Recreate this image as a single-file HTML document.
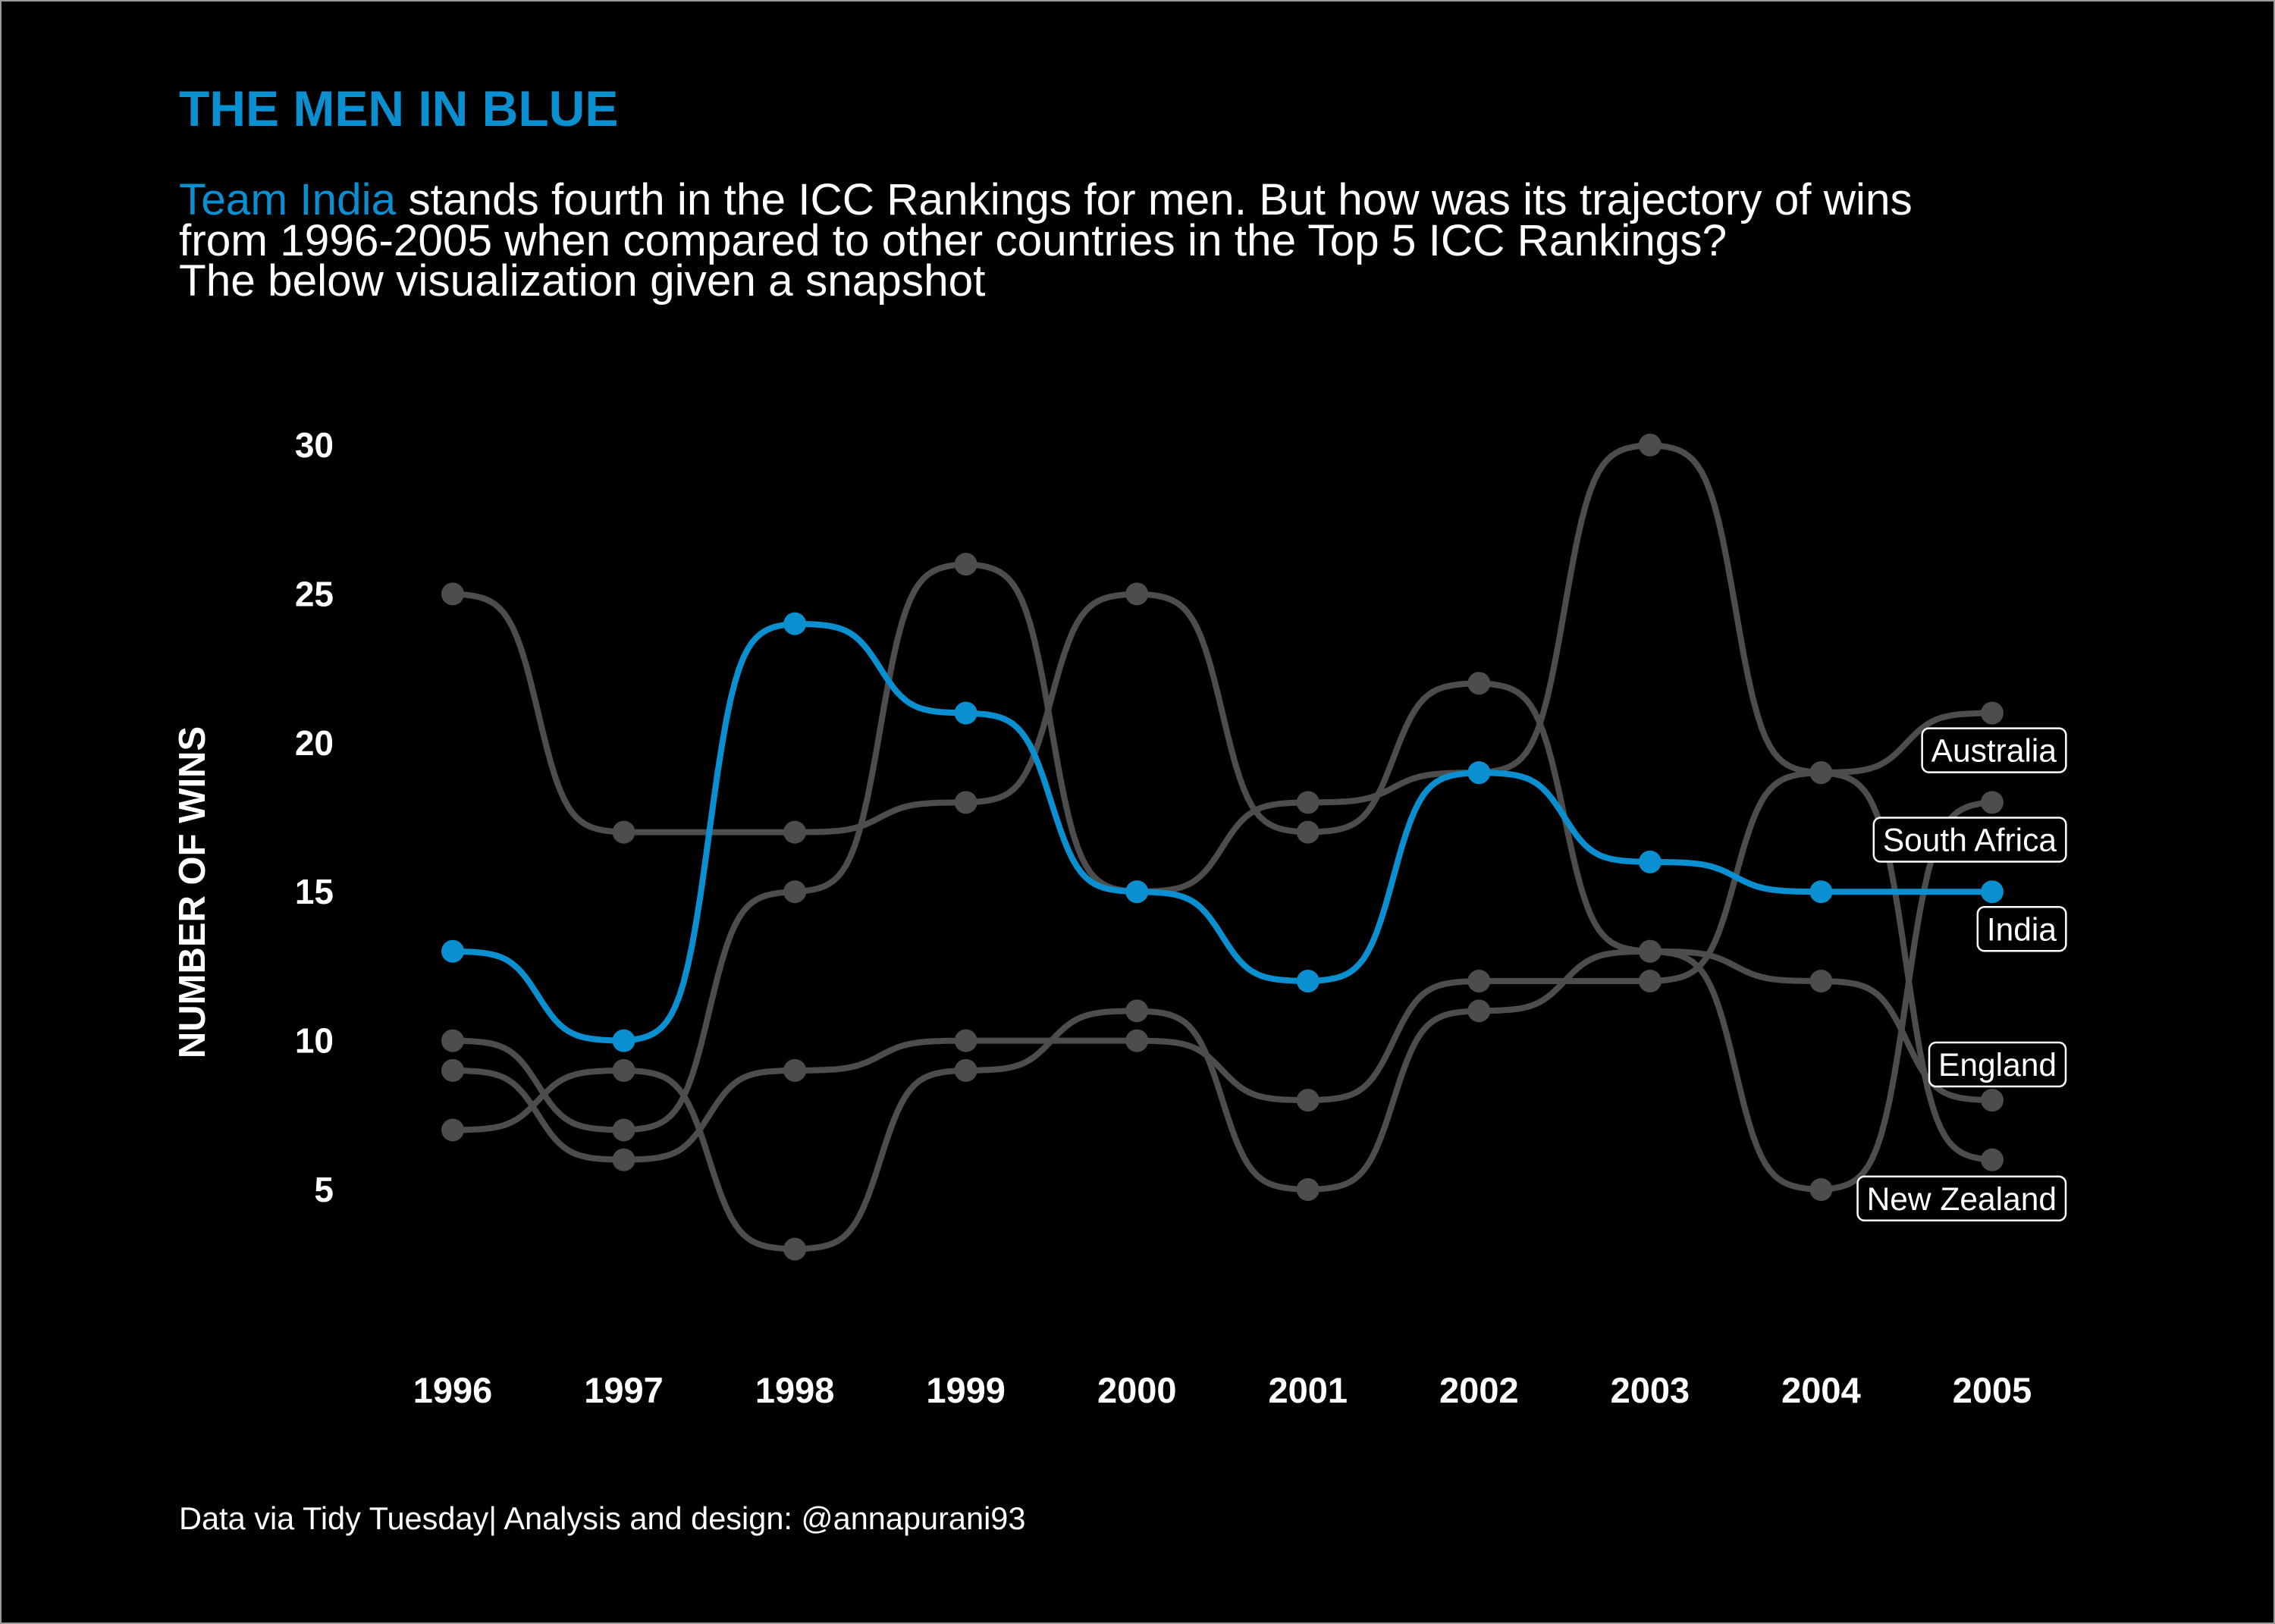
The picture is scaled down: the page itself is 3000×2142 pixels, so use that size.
<!DOCTYPE html>
<html><head><meta charset="utf-8">
<style>
html,body{margin:0;padding:0;background:#000;}
svg{display:block;}
text{font-family:"Liberation Sans",Arial,sans-serif;}
</style></head>
<body>
<svg id="chart" width="3000" height="2142" viewBox="0 0 3000 2142" xmlns="http://www.w3.org/2000/svg">
<rect x="0" y="0" width="3000" height="2142" fill="#000"/>
<rect x="1" y="1" width="2998" height="2140" fill="none" stroke="#9a9a9a" stroke-width="2"/>
<text x="236" y="166" fill="#0a8fd0" font-size="66" font-weight="bold">THE MEN IN BLUE</text>
<text x="236" y="283" fill="#fff" font-size="58.5"><tspan fill="#0a8fd0">Team India</tspan> stands fourth in the ICC Rankings for men. But how was its trajectory of wins</text>
<text x="236" y="337" fill="#fff" font-size="58.5">from 1996-2005 when compared to other countries in the Top 5 ICC Rankings?</text>
<text x="236" y="390" fill="#fff" font-size="58.5">The below visualization given a snapshot</text>
<text transform="translate(270,1177) rotate(-90)" text-anchor="middle" fill="#fff" font-size="49" font-weight="bold">NUMBER OF WINS</text>
<text x="236" y="2017" fill="#fff" font-size="41.5">Data via Tidy Tuesday| Analysis and design: @annapurani93</text>
<g id="yticks"></g><g id="xticks"></g><g id="lines"></g><g id="labels"></g>
</svg>
<script>
const years = [1996,1997,1998,1999,2000,2001,2002,2003,2004,2005];
const teams = ["Australia","South Africa","India","England","New Zealand"];
const australia = [10,7,15,26,15,18,19,30,19,21];
const southAfrica = [7,9,3,9,11,5,11,13,5,18];
const india = [13,10,24,21,15,12,19,16,15,15];
const england = [25,17,17,18,25,17,22,13,12,8];
const newZealand = [9,6,9,10,10,8,12,12,19,6];
const labelValues = [19.75,16.75,13.75,9.2,4.7];
const yTicks = [5,10,15,20,25,30];

const NS="http://www.w3.org/2000/svg";
const xs = y => 597 + (y-1996)*(2627-597)/9;
const ys = v => 1569 - (v-5)*(1569-587)/25;
function mk(tag, attrs, parent){const e=document.createElementNS(NS,tag);for(const k in attrs)e.setAttribute(k,attrs[k]);parent.appendChild(e);return e;}

const yt=document.getElementById('yticks');
yTicks.forEach(v=>{
  const t=mk('text',{x:440,y:ys(v)+16,'text-anchor':'end',fill:'#fff','font-size':46,'font-weight':'bold'},yt);
  t.textContent=v;
  
  
});
const xt=document.getElementById('xticks');
years.forEach(y=>{
  const t=mk('text',{x:xs(y),y:1850,'text-anchor':'middle',fill:'#fff','font-size':47,'font-weight':'bold'},xt);
  t.textContent=y;
  
  
});

function sig(t){const k=12;const a=1/(1+Math.exp(k/2)),b=1/(1+Math.exp(-k/2));return (1/(1+Math.exp(-k*(t-0.5)))-a)/(b-a);}
function pathFor(vals){
  let d='M'+xs(years[0])+','+ys(vals[0]);
  for(let i=0;i<vals.length-1;i++){
    const x0=xs(years[i]),x1=xs(years[i+1]),y0=ys(vals[i]),y1=ys(vals[i+1]);
    for(let s=1;s<=40;s++){const t=s/40;d+=' L'+(x0+(x1-x0)*t).toFixed(1)+','+(y0+(y1-y0)*sig(t)).toFixed(1);}
  }
  return d;
}
const series=[australia,southAfrica,india,england,newZealand];
const lg=document.getElementById('lines');
const order=[0,1,3,4,2];
order.forEach(i=>{
  const vals=series[i];const col=i===2?'#0a8fd0':'#4d4d4d';
  const g=mk('g',{},lg);
  
  
  const p=mk('path',{d:pathFor(vals),fill:'none',stroke:col,'stroke-width':8,'stroke-linejoin':'round'},g);
  
  
  vals.forEach((v,j)=>{
    const c=mk('circle',{cx:xs(years[j]),cy:ys(v),r:15,fill:col},g);
    
    
  });
});
const lb=document.getElementById('labels');
teams.forEach((n,i)=>{
  const g=mk('g',{},lb);
  
  
  const r=mk('rect',{fill:'#000',stroke:'#fff','stroke-width':2.5,rx:9},g);
  const t=mk('text',{x:2712,y:ys(labelValues[i])+15,'text-anchor':'end',fill:'#fff','font-size':42.5},g);
  t.textContent=n;
  const bb=t.getBBox();
  r.setAttribute('x',bb.x-12);r.setAttribute('y',ys(labelValues[i])-29);
  r.setAttribute('width',bb.width+24);r.setAttribute('height',58);
});
</script>
</body></html>
